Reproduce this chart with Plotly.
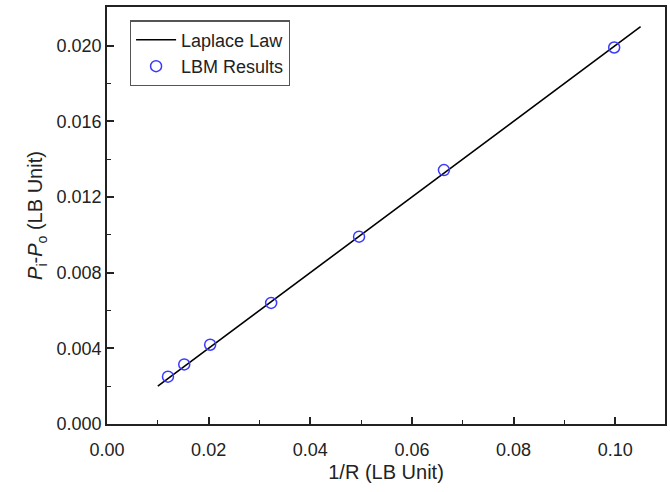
import plotly.graph_objects as go

# Pressure jump across a droplet interface versus curvature
inv_r = [0.0120, 0.0152, 0.0203, 0.0323, 0.0496, 0.0663, 0.0998]
dp_lbm = [0.00250, 0.00315, 0.00419, 0.00640, 0.00990, 0.01342, 0.01990]

# Laplace law: dP = sigma / R
sigma = 0.2
law_x = [0.010, 0.105]
law_y = [sigma * v for v in law_x]

font_family = "Liberation Sans, Arial, sans-serif"
ink = "#222222"

fig = go.Figure()
fig.add_trace(go.Scatter(
    x=law_x, y=law_y, mode="lines", name="Laplace Law",
    line=dict(color="black", width=1.6),
))
fig.add_trace(go.Scatter(
    x=inv_r, y=dp_lbm, mode="markers", name="LBM Results",
    marker=dict(symbol="circle-open", size=11, color="#3a3aff",
                line=dict(width=1.5, color="#3a3aff")),
))

axis_common = dict(
    showline=True, linecolor=ink, linewidth=1.8, mirror=True,
    ticks="inside", ticklen=7, tickwidth=1.5, tickcolor=ink,
    showgrid=False, zeroline=False,
    tickfont=dict(family=font_family, size=18, color=ink),
)

fig.update_xaxes(
    range=[0, 0.1098], tickvals=[0, 0.02, 0.04, 0.06, 0.08, 0.10],
    ticktext=["0.00", "0.02", "0.04", "0.06", "0.08", "0.10"],
    ticklabelstandoff=8,
    minor=dict(dtick=0.01, tick0=0, ticks="inside", ticklen=4,
               tickwidth=1.3, tickcolor=ink),
    title=dict(text="1/R (LB Unit)", standoff=6,
               font=dict(family=font_family, size=20, color=ink)),
    **axis_common,
)
fig.update_yaxes(
    range=[0, 0.02204], tickvals=[0, 0.004, 0.008, 0.012, 0.016, 0.020],
    ticktext=["0.000", "0.004", "0.008", "0.012", "0.016", "0.020"],
    minor=dict(dtick=0.002, tick0=0, ticks="inside", ticklen=4,
               tickwidth=1.3, tickcolor=ink),
    title=dict(text="<i>P</i><sub>i</sub>-<i>P</i><sub>o</sub> (LB Unit)",
               standoff=8,
               font=dict(family=font_family, size=20, color=ink)),
    **axis_common,
)

fig.update_layout(
    width=670, height=492,
    margin=dict(l=107, r=3, t=7, b=68),
    plot_bgcolor="white", paper_bgcolor="white",
    font=dict(family=font_family, color=ink),
    legend=dict(
        x=0.041, y=0.968, xanchor="left", yanchor="top",
        bordercolor="#555555", borderwidth=1.2, bgcolor="white",
        font=dict(family=font_family, size=18, color=ink),
        itemwidth=40, tracegroupgap=0,
    ),
    showlegend=True,
)

fig.write_html("out.html")
